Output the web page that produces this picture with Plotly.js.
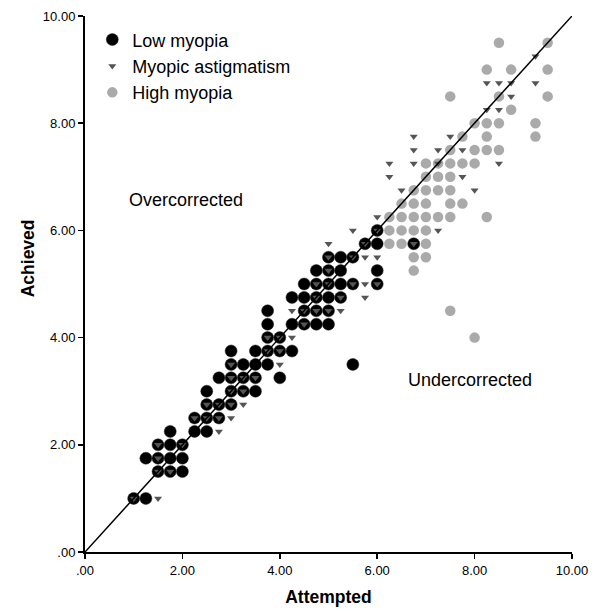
<!DOCTYPE html>
<html>
<head>
<meta charset="utf-8">
<script src="https://cdn.plot.ly/plotly-3.0.1.min.js"></script>
<style>html,body{margin:0;padding:0;background:#fff;}#chart{width:602px;height:611px;}</style>
</head>
<body>
<div id="chart"></div>
<script>
// Low myopia (attempted, achieved)
const lowX = [1.0,1.25, 1.5,1.75,2.0, 1.25,1.5,1.75,2.0, 1.5,1.75,2.0, 1.75,2.25,2.5, 2.25,2.5,2.75, 2.5,2.75,3.0,
  2.5,3.0,3.25,3.5, 2.75,3.0,3.25,3.5,4.0, 3.0,3.25,3.5,3.75,5.5, 3.0,3.5,3.75,4.0,4.25, 3.75,4.0,
  3.75,4.25,4.5,4.75,5.0, 3.75,4.5,4.75,5.0, 4.25,4.5,4.75,5.0,5.25, 4.5,4.75,5.0,5.25,5.5,6.0,
  4.75,5.0,5.25,6.0, 5.0,5.25,5.5, 5.75,6.0,6.75, 6.0];
const lowY = [1.0,1.0, 1.5,1.5,1.5, 1.75,1.75,1.75,1.75, 2.0,2.0,2.0, 2.25,2.25,2.25, 2.5,2.5,2.5, 2.75,2.75,2.75,
  3.0,3.0,3.0,3.0, 3.25,3.25,3.25,3.25,3.25, 3.5,3.5,3.5,3.5,3.5, 3.75,3.75,3.75,3.75,3.75, 4.0,4.0,
  4.25,4.25,4.25,4.25,4.25, 4.5,4.5,4.5,4.5, 4.75,4.75,4.75,4.75,4.75, 5.0,5.0,5.0,5.0,5.0,5.0,
  5.25,5.25,5.25,5.25, 5.5,5.5,5.5, 5.75,5.75,5.75, 6.0];

// Myopic astigmatism
const astX = [1.0,1.5, 1.5,1.75, 1.5, 1.5,2.0, 2.75, 2.25,2.5,2.75,3.0, 2.5,2.75,3.0,3.25, 3.0,3.25,
  3.0,3.25,3.5, 3.0,4.0, 3.75,4.0, 3.75,4.0,4.25, 4.5, 4.25,4.5,4.75,5.0,5.25, 4.75,5.25,5.75,
  4.75,5.0,5.5,5.75,6.0, 5.0, 5.0,5.5,5.75,6.0, 5.0,5.75,6.75, 5.5,6.0,7.25, 6.0, 6.5,8.0,
  6.25,7.75, 6.25,6.75,7.25,8.5, 6.75,7.25,7.75, 6.75,7.5, 8.25,8.5, 8.75, 8.25,8.5,8.75,9.25, 9.25];
const astY = [1.0,1.0, 1.5,1.5, 1.75, 2.0,2.0, 2.25, 2.5,2.5,2.5,2.5, 2.75,2.75,2.75,2.75, 3.0,3.0,
  3.25,3.25,3.25, 3.5,3.5, 3.75,3.75, 4.0,4.0,4.0, 4.25, 4.5,4.5,4.5,4.5,4.5, 4.75,4.75,4.75,
  5.0,5.0,5.0,5.0,5.0, 5.25, 5.5,5.5,5.5,5.5, 5.75,5.75,5.75, 6.0,6.0,6.0, 6.25, 6.75,6.75,
  7.0,7.0, 7.25,7.25,7.25,7.25, 7.5,7.5,7.5, 7.75,7.75, 8.25,8.25, 8.5, 8.75,8.75,8.75,8.75, 9.25];

// High myopia
const highX = [8.0, 7.5, 6.75, 6.75,7.0, 6.25,6.5,7.0, 6.25,6.5,6.75,7.0, 6.25,6.5,6.75,7.0,7.25,7.5,8.25,
  6.5,6.75,7.0,7.5,7.75, 6.75,7.0,7.25,7.5, 7.0,7.25,7.5, 7.0,7.25,7.5,7.75,8.0, 7.5,8.0,8.25,8.5,
  7.75,8.25,9.25, 8.0,8.25,8.5,9.25, 8.75, 7.5,8.5,9.5, 8.25,8.75,9.5, 8.5,9.5];
const highY = [4.0, 4.5, 5.25, 5.5,5.5, 5.75,5.75,5.75, 6.0,6.0,6.0,6.0, 6.25,6.25,6.25,6.25,6.25,6.25,6.25,
  6.5,6.5,6.5,6.5,6.5, 6.75,6.75,6.75,6.75, 7.0,7.0,7.0, 7.25,7.25,7.25,7.25,7.25, 7.5,7.5,7.5,7.5,
  7.75,7.75,7.75, 8.0,8.0,8.0,8.0, 8.25, 8.5,8.5,8.5, 9.0,9.0,9.0, 9.5,9.5];

// Reference line (attempted = achieved)
const refX = [0, 10];
const refY = [0, 10];

const tickVals = [0, 2, 4, 6, 8, 10];
const tickText = ['.00', '2.00', '4.00', '6.00', '8.00', '10.00'];

const seriesNames = ['Low myopia', 'Myopic astigmatism', 'High myopia'];

const FONT = 'Liberation Sans, Arial, sans-serif';

const traces = [
  {x: lowX, y: lowY, type: 'scatter', mode: 'markers', name: seriesNames[0], legendrank: 1,
   marker: {symbol: 'circle', size: 12, color: '#000000', line: {width: 0.5, color: '#222'}}},
  {x: highX, y: highY, type: 'scatter', mode: 'markers', name: seriesNames[2], legendrank: 3,
   marker: {symbol: 'circle', size: 10.5, color: '#aaaaaa', line: {width: 0}}},
  {x: astX, y: astY, type: 'scatter', mode: 'markers', name: seriesNames[1], legendrank: 2,
   marker: {symbol: 'triangle-down', size: 7, color: '#555555', line: {width: 0}}},
  {x: refX, y: refY, type: 'scatter', mode: 'lines', showlegend: false, hoverinfo: 'skip',
   line: {color: '#000', width: 1.5}}
];

const axisCommon = {
  range: [0, 10], tickvals: tickVals, ticktext: tickText, ticks: 'outside', ticklen: 5,
  tickwidth: 1.5, tickcolor: '#000', showline: true, linecolor: '#000', linewidth: 2,
  showgrid: false, zeroline: false, tickfont: {family: FONT, size: 13, color: '#000'}
};

const layout = {
  width: 602, height: 611,
  margin: {l: 85, r: 30, t: 16, b: 59},
  paper_bgcolor: '#fff', plot_bgcolor: '#fff',
  showlegend: true,
  legend: {x: 0.015, y: 0.99, xanchor: 'left', yanchor: 'top', bgcolor: 'rgba(0,0,0,0)',
    font: {family: FONT, size: 18, color: '#000'},
    itemwidth: 30, tracegroupgap: 0},
  xaxis: Object.assign({}, axisCommon, {
    title: {text: 'Attempted', standoff: 14, font: {family: FONT, size: 17.5, weight: 'bold', color: '#000'}}
  }),
  yaxis: Object.assign({}, axisCommon, {}),
  annotations: [
    {x: -0.117, y: 0.548, xref: 'paper', yref: 'paper', text: '<b>Achieved</b>', textangle: -90, showarrow: false,
     xanchor: 'center', yanchor: 'middle', font: {family: FONT, size: 17.5, color: '#000'}},
    {x: 2.07, y: 6.56, xref: 'x', yref: 'y', text: 'Overcorrected', showarrow: false,
     font: {family: FONT, size: 18, color: '#000'}},
    {x: 7.91, y: 3.2, xref: 'x', yref: 'y', text: 'Undercorrected', showarrow: false,
     font: {family: FONT, size: 18, color: '#000'}}
  ]
};

Plotly.newPlot('chart', traces, layout, {displayModeBar: false, staticPlot: true});
</script>
</body>
</html>
